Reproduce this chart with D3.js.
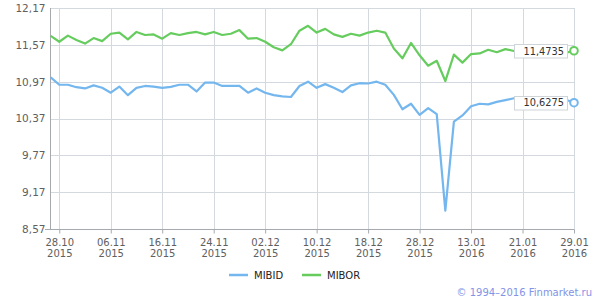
<!DOCTYPE html>
<html>
<head>
<meta charset="utf-8">
<script src="https://cdn.jsdelivr.net/npm/d3@7/dist/d3.min.js"></script>
<style>
html,body{margin:0;padding:0;background:#fff;}
svg{display:block;font-family:"DejaVu Sans",Verdana,sans-serif;}
</style>
</head>
<body>
<svg id="chart" width="600" height="300"></svg>
<script>
// ---- data ----
const seriesNames = ["MIBID", "MIBOR"];
const mibid = [11.04,10.92,10.92,10.88,10.86,10.91,10.87,10.79,10.89,10.75,
  10.87,10.90,10.89,10.87,10.885,10.92,10.92,10.81,10.955,10.955,
  10.90,10.90,10.90,10.79,10.86,10.79,10.75,10.73,10.72,10.90,
  10.97,10.87,10.93,10.87,10.80,10.91,10.945,10.94,10.97,10.92,
  10.755,10.52,10.61,10.43,10.54,10.44,8.87,10.32,10.42,10.57,
  10.61,10.60,10.64,10.67,10.70,10.71,10.71,10.72,10.71,10.70,
  10.68,10.6275];
const mibor = [11.715,11.62,11.72,11.65,11.59,11.68,11.63,11.75,11.77,11.66,
  11.78,11.73,11.74,11.67,11.76,11.73,11.76,11.78,11.74,11.78,
  11.73,11.75,11.81,11.67,11.68,11.62,11.53,11.48,11.58,11.80,
  11.88,11.77,11.83,11.74,11.70,11.75,11.72,11.77,11.80,11.77,
  11.51,11.35,11.60,11.40,11.23,11.31,10.98,11.41,11.28,11.42,
  11.43,11.49,11.45,11.50,11.47,11.46,11.44,11.41,11.38,11.39,
  11.44,11.4735];
const xTickIndex = [1,7,13,19,25,31,37,43,49,55,61];
const xTickDay = ["28.10","06.11","16.11","24.11","02.12","10.12","18.12","28.12","13.01","21.01","29.01"];
const xTickYear = ["2015","2015","2015","2015","2015","2015","2015","2015","2016","2016","2016"];
const yTicks = [8.57,9.17,9.77,10.37,10.97,11.57,12.17];
const lastLabels = ["10,6275","11,4735"];
const colors = ["#74b6ee","#66cc5e"];
const series = [mibid, mibor];

// ---- layout ----
const svg = d3.select("#chart");
const L = 50, R = 574, T = 8, B = 229;
const x = d3.scaleLinear().domain([0, mibid.length - 1]).range([50.7, R]);
const y = d3.scaleLinear().domain([8.57, 12.17]).range([B, T]);
const fmt = v => d3.format(".2f")(v).replace(".", ",");

// grid
const grid = svg.append("g");
grid.selectAll("line.h").data(yTicks).join("line")
  .attr("x1", L).attr("x2", R)
  .attr("y1", d => Math.round(y(d)) + 0.5).attr("y2", d => Math.round(y(d)) + 0.5)
  .attr("stroke", "#d3d9de").attr("stroke-width", 1);
grid.selectAll("line.v").data(xTickIndex).join("line")
  .attr("x1", d => Math.round(x(d)) + 0.5).attr("x2", d => Math.round(x(d)) + 0.5)
  .attr("y1", T).attr("y2", B)
  .attr("stroke", "#d3d9de").attr("stroke-width", 1);

// y axis
const yAxis = d3.axisLeft(y).tickValues(yTicks).tickSize(0).tickPadding(5).tickFormat(fmt);
const gy = svg.append("g").attr("transform", `translate(${L + 0.5},0)`).call(yAxis);
gy.select(".domain").attr("stroke", "#a6a9ad").attr("d", `M0,${T}V${B + 0.5}`);
gy.selectAll("text").attr("fill", "#606060").style("font-size", "10.5px")
  .attr("font-family", "DejaVu Sans, Verdana, sans-serif");

// x axis
const xAxis = d3.axisBottom(x).tickValues(xTickIndex).tickSize(4).tickFormat(() => "");
const gx = svg.append("g").attr("transform", `translate(0,${B + 0.5})`).call(xAxis);
gx.select(".domain").attr("stroke", "#a6a9ad").attr("d", `M45,0H${R + 0.5}`);
gx.selectAll(".tick line").attr("stroke", "#a6a9ad");
gx.selectAll(".tick").each(function(d, i) {
  const t = d3.select(this).append("text").attr("fill", "#606060")
    .attr("text-anchor", "middle").style("font-size", "10px")
    .attr("font-family", "DejaVu Sans, Verdana, sans-serif");
  t.append("tspan").attr("x", 0).attr("y", 16).text(xTickDay[i]);
  t.append("tspan").attr("x", 0).attr("y", 27.5).text(xTickYear[i]);
});

// lines
const line = d3.line().x((d, i) => x(i)).y(d => y(d));
series.forEach((s, k) => {
  svg.append("path").datum(s).attr("d", line)
    .attr("fill", "none").attr("stroke", colors[k]).attr("stroke-width", 2.2)
    .attr("stroke-linejoin", "round");
});

// end labels and markers
series.forEach((s, k) => {
  const n = s.length - 1;
  const py = y(s[n]);
  const g = svg.append("g");
  g.append("rect").attr("x", x(n) - 59.5).attr("y", Math.round(py) - 6.5)
    .attr("width", 53).attr("height", 13.5)
    .attr("fill", "#fff").attr("stroke", "#cfd4d8").attr("stroke-width", 1);
  g.append("text").attr("x", x(n) - 10).attr("y", py + 3.8)
    .attr("text-anchor", "end").attr("fill", "#333").style("font-size", "9.8px")
    .text(lastLabels[k]);
  svg.append("circle").attr("cx", x(n)).attr("cy", py).attr("r", 3.8)
    .attr("fill", "#fff").attr("stroke", colors[k]).attr("stroke-width", 2);
});

// legend
const legX = [229, 302];
seriesNames.forEach((name, k) => {
  svg.append("line").attr("x1", legX[k]).attr("x2", legX[k] + 19)
    .attr("y1", 275).attr("y2", 275).attr("stroke", colors[k]).attr("stroke-width", 2.5);
  svg.append("text").attr("x", legX[k] + 25).attr("y", 279)
    .attr("fill", "#222").style("font-size", "10px").text(name);
});

// credit
svg.append("text").attr("x", 592).attr("y", 296).attr("text-anchor", "end")
  .attr("fill", "#8393e6").style("font-size", "10px").text("© 1994–2016 Finmarket.ru");
</script>
</body>
</html>
